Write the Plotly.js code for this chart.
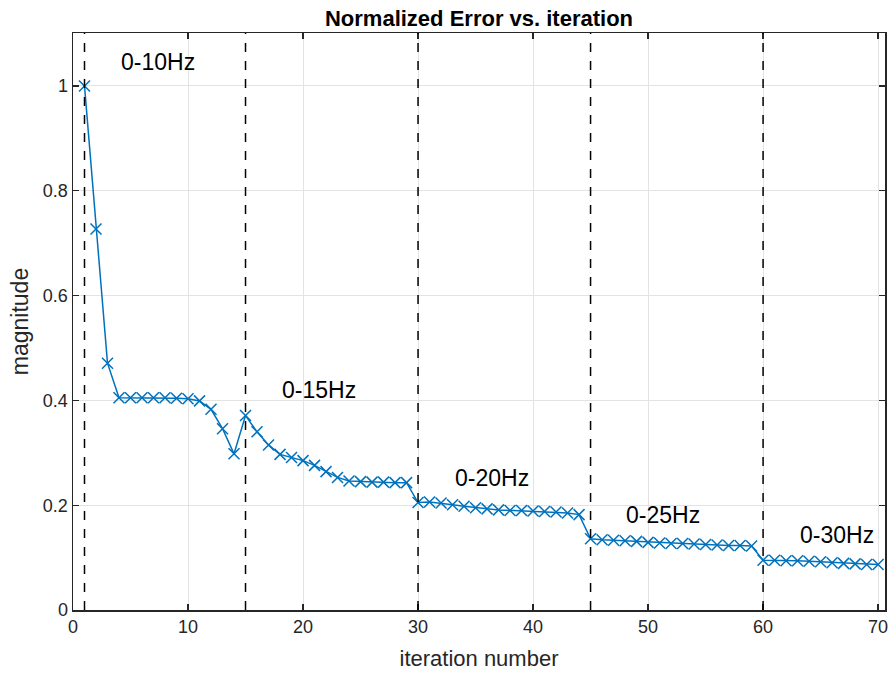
<!DOCTYPE html>
<html>
<head>
<meta charset="utf-8">
<script src="https://cdn.plot.ly/plotly-3.0.1.min.js"></script>
<style>html,body{margin:0;padding:0;background:#fff;}#chart{width:888px;height:677px;}</style>
</head>
<body>
<div id="chart"></div>
<script>
// Data
const iterations = Array.from({length: 70}, (_, i) => i + 1);
const normalizedError = [
  1.000, 0.727, 0.471, 0.405, 0.405, 0.405, 0.405, 0.405, 0.404, 0.403,
  0.399, 0.383, 0.346, 0.298, 0.371, 0.340, 0.315, 0.297, 0.291, 0.285,
  0.276, 0.264, 0.253, 0.246, 0.245, 0.244, 0.244, 0.243, 0.243, 0.205,
  0.206, 0.204, 0.201, 0.198, 0.195, 0.193, 0.191, 0.190, 0.190, 0.189,
  0.188, 0.187, 0.185, 0.182, 0.136, 0.134, 0.133, 0.132, 0.131, 0.129,
  0.128, 0.127, 0.127, 0.126, 0.125, 0.124, 0.123, 0.123, 0.122, 0.095,
  0.095, 0.094, 0.094, 0.093, 0.092, 0.090, 0.089, 0.088, 0.087, 0.087
];
const stageStarts = [1, 15, 30, 45, 60];
const stageLabels = ['0-10Hz', '0-15Hz', '0-20Hz', '0-25Hz', '0-30Hz'];
const labelX = [7.4, 21.4, 36.4, 51.3, 66.4];
const labelY = [1.046, 0.42, 0.252, 0.181, 0.143];
const xTicks = [0, 10, 20, 30, 40, 50, 60, 70];
const yTicks = [0, 0.2, 0.4, 0.6, 0.8, 1];
const yTickText = ['0', '0.2', '0.4', '0.6', '0.8', '1'];

const FONT = '"Liberation Sans", Arial, Helvetica, sans-serif';

const trace = {
  x: iterations,
  y: normalizedError,
  type: 'scatter',
  mode: 'lines+markers',
  line: {color: '#0072BD', width: 1.5},
  marker: {symbol: 'x-thin', size: 11, color: '#0072BD', line: {color: '#0072BD', width: 1.5}},
  hoverinfo: 'x+y'
};

const shapes = stageStarts.map(s => ({
  type: 'line', xref: 'x', yref: 'paper', x0: s, x1: s, y0: 0, y1: 1,
  line: {color: '#000', width: 1.5, dash: 'dash'}, layer: 'above'
}));

const annotations = stageLabels.map((t, i) => ({
  x: labelX[i], y: labelY[i], xref: 'x', yref: 'y', text: t, showarrow: false,
  font: {family: FONT, size: 23, color: '#000'}
}));

const axisCommon = {
  showline: true, linecolor: '#262626', linewidth: 1.5, mirror: 'ticks',
  ticks: 'inside', ticklen: 6, tickwidth: 1.2, tickcolor: '#262626',
  showgrid: true, gridcolor: '#e3e3e3', gridwidth: 1, zeroline: false,
  ticklabeloverflow: 'allow',
  tickfont: {family: FONT, size: 18, color: '#262626'}
};

const layout = {
  width: 888, height: 677,
  margin: {l: 73, r: 3, t: 33, b: 67},
  paper_bgcolor: '#fff', plot_bgcolor: '#fff',
  showlegend: false,
  title: {
    text: '<b>Normalized Error vs. iteration</b>',
    font: {family: FONT, size: 22, color: '#000'},
    x: 0.5, xref: 'paper', xanchor: 'center', y: 0.973, yref: 'container', yanchor: 'middle'
  },
  xaxis: Object.assign({}, axisCommon, {
    range: [0, 70.6], tickvals: xTicks, ticktext: xTicks.map(String),
    title: {text: 'iteration number', font: {family: FONT, size: 22, color: '#262626'}, standoff: 14}
  }),
  yaxis: Object.assign({}, axisCommon, {
    range: [0, 1.101], tickvals: yTicks, ticktext: yTickText,
    title: {text: 'magnitude', font: {family: FONT, size: 23, color: '#262626'}, standoff: 8}
  }),
  shapes: shapes,
  annotations: annotations
};

Plotly.newPlot('chart', [trace], layout, {displayModeBar: false, staticPlot: true});
</script>
</body>
</html>
